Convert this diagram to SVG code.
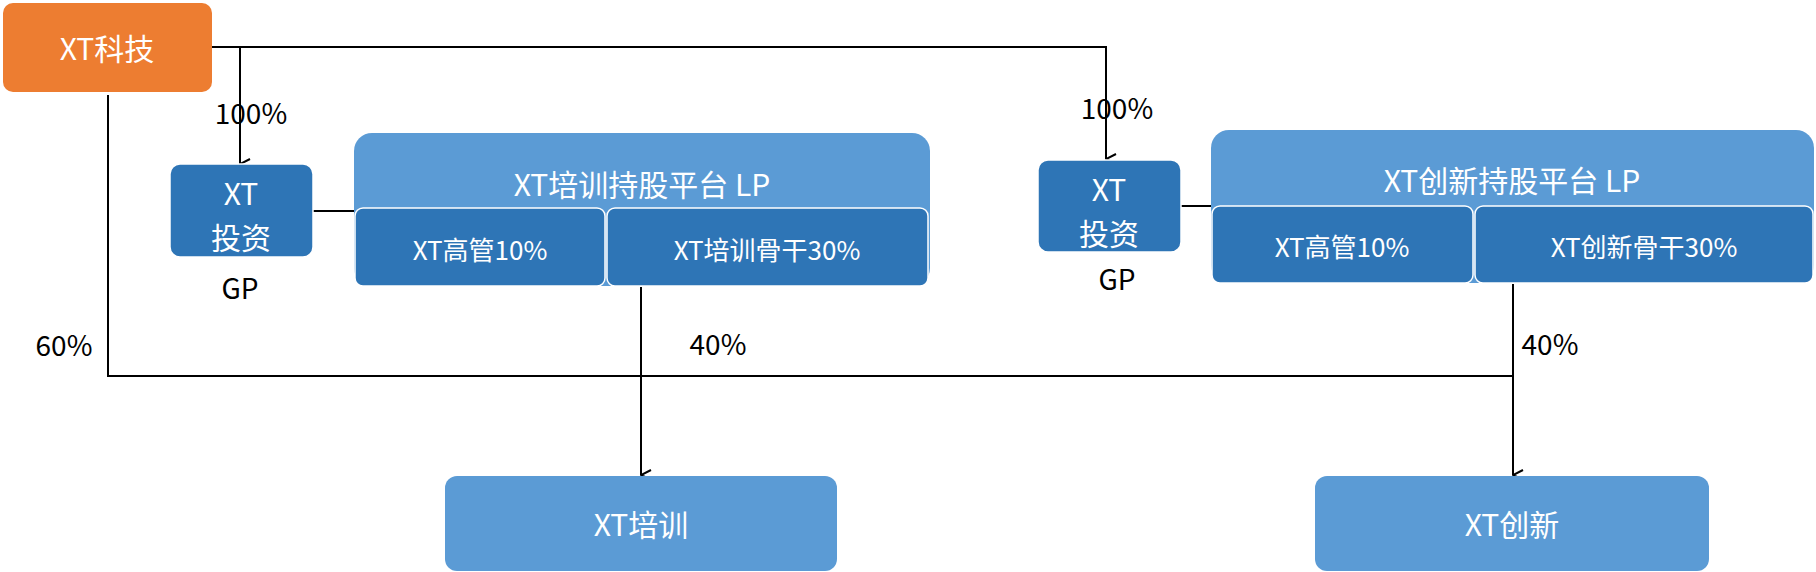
<svg xmlns="http://www.w3.org/2000/svg" width="1816" height="572" viewBox="0 0 1816 572">
<style>
text{font-family:"Noto Sans CJK SC","Noto Sans",sans-serif;text-anchor:middle;dominant-baseline:central}
.w{fill:#fff}.k{fill:#000;font-size:28px}
.lb{fill:#5B9BD5}.db{fill:#2E75B6;stroke:#fff;stroke-width:1.5}
.c{stroke:#000;stroke-width:2;fill:none}
</style>
<defs><marker id="a" viewBox="0 0 12 12" refX="6" refY="11" markerWidth="12" markerHeight="12" orient="auto-start-reverse" markerUnits="userSpaceOnUse"><path d="M1,1 L6,11 L11,1" fill="none" stroke="#000" stroke-width="2"/></marker></defs>
<g id="connectors">
<path class="c" d="M212,47 H1106 V159" marker-end="url(#a)"/>
<path class="c" d="M240,47 V164" marker-end="url(#a)"/>
<path class="c" d="M313,211 H355"/>
<path class="c" d="M1181,206 H1212"/>
<path class="c" d="M108,95 V376 H1513"/>
<path class="c" d="M641,287 V475" marker-end="url(#a)"/>
<path class="c" d="M1513,284 V475" marker-end="url(#a)"/>
<text class="k" x="251" y="112">100%</text>
<text class="k" x="1117" y="107">100%</text>
<text class="k" x="64" y="344">60%</text>
<text class="k" x="718" y="343">40%</text>
<text class="k" x="1550" y="343">40%</text>
</g>
<g id="xtkj"><rect x="3" y="3" width="209" height="89" rx="10" fill="#ED7D31"/><text class="w" x="107" y="47" font-size="30">XT科技</text></g>
<g id="inv1"><rect x="170" y="164" width="143" height="93" rx="10" class="db"/><text class="w" x="241" y="192" font-size="30">XT</text><text class="w" x="241" y="236" font-size="30">投资</text><text class="k" x="240" y="287">GP</text></g>
<g id="plat1"><rect x="354" y="133" width="576" height="153" rx="18" class="lb"/><text class="w" x="642" y="183" font-size="30">XT培训持股平台 LP</text>
<rect x="355" y="208" width="250" height="78" rx="8" class="db"/><text class="w" x="480" y="248" font-size="26">XT高管10%</text>
<rect x="607" y="208" width="321" height="78" rx="8" class="db"/><text class="w" x="767" y="248" font-size="26">XT培训骨干30%</text></g>
<g id="inv2"><rect x="1038" y="160" width="143" height="92" rx="10" class="db"/><text class="w" x="1109" y="188" font-size="30">XT</text><text class="w" x="1109" y="232" font-size="30">投资</text><text class="k" x="1117" y="278">GP</text></g>
<g id="plat2"><rect x="1211" y="130" width="603" height="153" rx="18" class="lb"/><text class="w" x="1512" y="179" font-size="30">XT创新持股平台 LP</text>
<rect x="1212" y="206" width="261" height="77" rx="8" class="db"/><text class="w" x="1342" y="245" font-size="26">XT高管10%</text>
<rect x="1475" y="206" width="338" height="77" rx="8" class="db"/><text class="w" x="1644" y="245" font-size="26">XT创新骨干30%</text></g>
<g id="px"><rect x="445" y="476" width="392" height="95" rx="12" class="lb"/><text class="w" x="641" y="523" font-size="30">XT培训</text></g>
<g id="cx"><rect x="1315" y="476" width="394" height="95" rx="12" class="lb"/><text class="w" x="1512" y="523" font-size="30">XT创新</text></g>
</svg>
